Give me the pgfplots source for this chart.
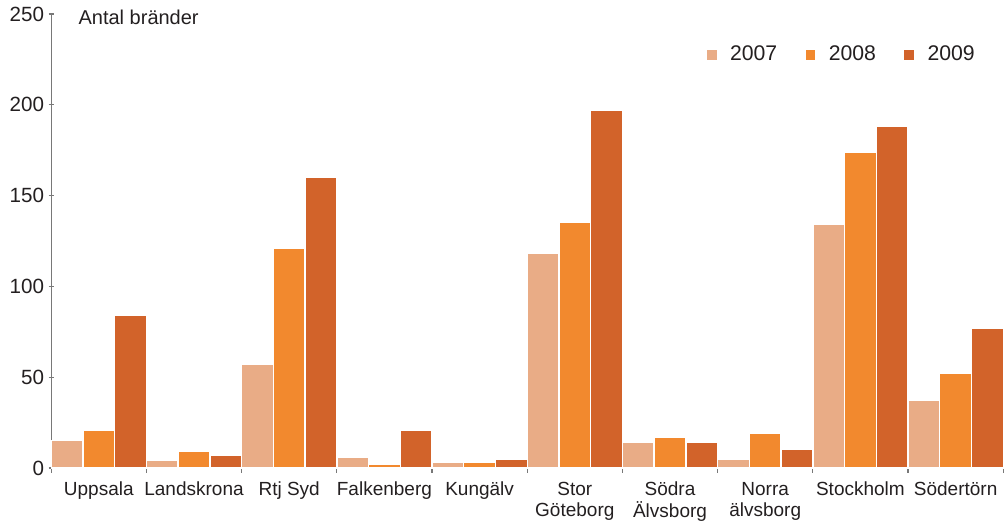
\documentclass[border=0pt]{standalone}
\usepackage{pgfplots}
\pgfplotsset{compat=1.18}
\usepackage{pgfplotstable}
\usepackage{fontspec}
\setmainfont{Liberation Sans}

\definecolor{c07}{RGB}{233,172,134}
\definecolor{c08}{RGB}{242,137,46}
\definecolor{c09}{RGB}{210,99,42}
\definecolor{axgray}{RGB}{120,120,120}
\definecolor{txt}{RGB}{35,31,32}

\pgfplotstableread{
x y2007 y2008 y2009
0 15 21 84
1 4 9 7
2 57 121 160
3 6 2 21
4 3 3 5
5 118 135 197
6 14 17 14
7 5 19 10
8 134 174 188
9 37 52 77
}\branddata

\begin{document}
\begin{tikzpicture}
\begin{axis}[
  scale only axis,
  width=476pt, height=227pt,
  xmin=-0.5, xmax=9.5,
  ymin=0, ymax=250,
  clip=false,
  ytick={0,50,...,250},
  xtick={0,...,9},
  xticklabels={Uppsala,Landskrona,Rtj Syd,Falkenberg,Kungälv,Stor\\Göteborg,Södra\\Älvsborg,Norra\\älvsborg,Stockholm,Södertörn},
  minor xtick={-0.5,0.5,...,9.5},
  major x tick style={draw=none},
  minor tick length=2.5pt,
  major tick length=2.5pt,
  tick align=outside,
  axis x line=bottom, axis y line=left,
  axis line style={-, draw=axgray, line width=0.6pt},
  tick style={draw=axgray, line width=0.6pt},
  font=\fontsize{10}{11}\selectfont,
  tick label style={text=txt},
  y tick label style={xshift=1.2pt, font=\fontsize{10.3}{11}\selectfont},
  x tick label style={align=center, yshift=-1pt, font=\fontsize{9.5}{10.8}\selectfont},
  /pgf/number format/assume math mode=true,
  ybar, bar width=0.3333,
  legend style={at={(0.981,0.948)}, anchor=north east, draw=none, fill=none,
    legend columns=3, font=\fontsize{10.6}{12}\selectfont, text=txt,
    /tikz/every odd column/.append style={column sep=4pt},
    /tikz/every even column/.append style={column sep=11.5pt}},
  legend image code/.code={\fill[#1] (0pt,-2.8pt) rectangle (5.6pt,2.8pt);},
  every axis plot/.append style={draw=white, line width=0.7pt},
]
\addplot[fill=c07, bar shift=-0.3333] table[x=x, y=y2007] {\branddata};
\addplot[fill=c08, bar shift=0] table[x=x, y=y2008] {\branddata};
\addplot[fill=c09, bar shift=0.3333] table[x=x, y=y2009] {\branddata};
\legend{2007,2008,2009}
\node[anchor=west, text=txt, font=\fontsize{10}{11}\selectfont, inner sep=0pt]
  at (rel axis cs:0,1) [xshift=13.5pt, yshift=-1.5pt] {Antal bränder};
\end{axis}
\path ([xshift=-1.5pt]current bounding box.west) ([xshift=1.5pt]current bounding box.east);
\end{tikzpicture}
\end{document}
